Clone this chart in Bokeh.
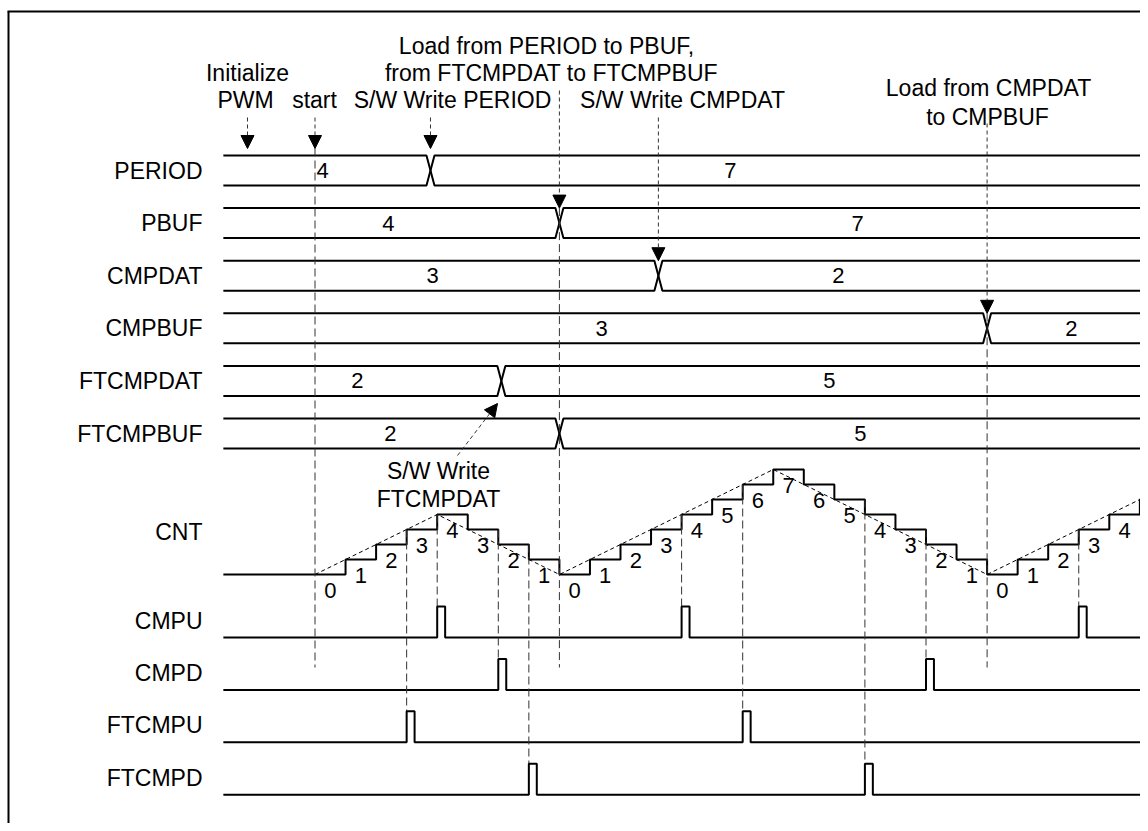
from bokeh.plotting import figure
from bokeh.models import Range1d, Arrow, NormalHead
from bokeh.core.properties import value
from bokeh.embed import file_html
from bokeh.resources import INLINE

# ---------------- data ----------------
bus_rows = ["PERIOD", "PBUF", "CMPDAT", "CMPBUF", "FTCMPDAT", "FTCMPBUF"]
bus_change_t = [3.78, 8.0, 11.24, 22.0, 6.1, 8.0]      # time (counter steps) of value change
bus_before = ["4", "4", "3", "3", "2", "2"]
bus_after = ["7", "7", "2", "2", "5", "5"]
bus_before_label_t = [0.25, 2.4, 3.85, 9.38, 1.39, 2.47]
bus_after_label_t = [13.6, 17.76, 17.13, 24.76, 16.84, 17.85]

cnt_t = list(range(0, 29))
cnt_values = [0, 1, 2, 3, 4, 3, 2, 1, 0, 1, 2, 3, 4, 5, 6, 7, 6, 5, 4, 3, 2, 1, 0, 1, 2, 3, 4, 5, 6]

pulse_rows = ["CMPU", "CMPD", "FTCMPU", "FTCMPD"]
pulse_times = [[4, 12, 25], [6, 20], [3, 14], [7, 18]]

# event times (counter steps)
ev_init_t = -2.21
ev_start_t = 0.0
ev_write_period_t = 3.78
ev_load_pbuf_t = 8.0
ev_write_cmpdat_t = 11.24
ev_load_cmpbuf_t = 22.0

# ---------------- layout ----------------
T0_PX = 314.5      # pixel x of t = 0
STEP_PX = 30.55    # px per counter step
W, H = 1140, 823


def tx(px):
    return (px - T0_PX) / STEP_PX


T_START = -3.0
T_END = tx(W + 20)
BUS_TOP0 = 155.0
ROW_PITCH = 52.6
BUS_H = 30.0
CNT_BASE = 574.0
CNT_STEP = 15.0
PULSE_BASE0 = 637.0
PULSE_PITCH = 52.4
PULSE_H = 31.0
PULSE_W = 0.26
HW = 4.0 / STEP_PX
DASH_END_Y = 667.0

FONT = value("Liberation Sans")
FS = "23px"
FS_NUM = "22px"
DASH_COL = "#333333"
DASH = "8 4"


def cy(v):
    return CNT_BASE - CNT_STEP * v


p = figure(width=W, height=H, x_range=Range1d(tx(0), tx(W)), y_range=Range1d(H, 0),
           output_backend="svg", toolbar_location=None, min_border=0,
           x_axis_type=None, y_axis_type=None)
p.xgrid.visible = False
p.ygrid.visible = False
p.outline_line_color = None
p.background_fill_color = "white"
p.border_fill_color = "white"

# frame (top & left)
p.line([tx(7), tx(W + 10)], [11, 11], line_color="black", line_width=2)
p.line([tx(8), tx(8)], [11, H + 10], line_color="black", line_width=2)


def label(txt, x, y, align="center", size=FS):
    p.text(x=[x], y=[y], text=[txt], text_font=FONT, text_font_size=size,
           text_align=align, text_baseline="middle", text_color="black")


# ---------------- bus rows ----------------
for i, name in enumerate(bus_rows):
    top = BUS_TOP0 + i * ROW_PITCH
    bot = top + BUS_H
    tc = bus_change_t[i]
    xs = [[T_START, tc - HW, tc + HW, T_END], [T_START, tc - HW, tc + HW, T_END]]
    ys = [[top, top, bot, bot], [bot, bot, top, top]]
    p.multi_line(xs, ys, line_color="black", line_width=2)
    label(name, tx(202), top + BUS_H / 2, align="right")
    label(bus_before[i], bus_before_label_t[i], top + BUS_H / 2, size=FS_NUM)
    label(bus_after[i], bus_after_label_t[i], top + BUS_H / 2, size=FS_NUM)

# ---------------- CNT ----------------
cx, cyy = [T_START], [cy(cnt_values[0])]
for t, v in zip(cnt_t, cnt_values):
    cx += [t, t + 1]
    cyy += [cy(v), cy(v)]
p.line(cx, cyy, line_color="black", line_width=2)
p.line(cnt_t, [cy(v) for v in cnt_values], line_color="black", line_width=1, line_dash="4 3")
for t, v in zip(cnt_t, cnt_values):
    if t + 0.5 < tx(W):
        label(str(v), t + 0.5, cy(v) + 16, size=FS_NUM)
label("CNT", tx(202), 531, align="right")

# ---------------- pulse rows ----------------
for j, name in enumerate(pulse_rows):
    base = PULSE_BASE0 + j * PULSE_PITCH
    top = base - PULSE_H
    xs, ys = [T_START], [base]
    for pt in pulse_times[j]:
        xs += [pt, pt, pt + PULSE_W, pt + PULSE_W]
        ys += [base, top, top, base]
        lv = max(cnt_values[pt - 1], cnt_values[pt])
        p.line([pt, pt], [cy(lv), top], line_color=DASH_COL, line_width=1, line_dash=DASH)
    xs.append(T_END)
    ys.append(base)
    p.line(xs, ys, line_color="black", line_width=2)
    label(name, tx(202), base - 17, align="right")


# ---------------- vertical event lines & arrows ----------------
def arrow(x0, y0, x1, y1):
    p.add_layout(Arrow(end=NormalHead(size=13, fill_color="black", line_color="black", line_width=1),
                       x_start=x0, y_start=y0, x_end=x1, y_end=y1,
                       line_color=DASH_COL, line_width=1, line_dash="4 3"))


arrow(ev_init_t, 117, ev_init_t, 148)
arrow(ev_start_t, 117, ev_start_t, 148)
p.line([ev_start_t, ev_start_t], [148, DASH_END_Y], line_color=DASH_COL, line_width=1, line_dash=DASH)
arrow(ev_write_period_t, 117, ev_write_period_t, 148)
arrow(ev_load_pbuf_t, 90, ev_load_pbuf_t, BUS_TOP0 + ROW_PITCH)
p.line([ev_load_pbuf_t] * 2, [BUS_TOP0 + ROW_PITCH, DASH_END_Y], line_color=DASH_COL, line_width=1, line_dash=DASH)
arrow(ev_write_cmpdat_t, 117, ev_write_cmpdat_t, BUS_TOP0 + 2 * ROW_PITCH)
arrow(ev_load_cmpbuf_t, 123, ev_load_cmpbuf_t, BUS_TOP0 + 3 * ROW_PITCH)
p.line([ev_load_cmpbuf_t] * 2, [BUS_TOP0 + 3 * ROW_PITCH, DASH_END_Y], line_color=DASH_COL, line_width=1, line_dash=DASH)
# S/W write FTCMPDAT diagonal arrow
arrow(tx(457), 455, tx(497), 403)

# ---------------- annotation texts ----------------
label("Initialize", tx(247), 72)
label("PWM", tx(245), 99)
label("start", tx(314), 99)
label("S/W Write PERIOD", tx(452), 99)
label("Load from PERIOD to PBUF,", tx(546), 45)
label("from FTCMPDAT to FTCMPBUF", tx(551), 72)
label("S/W Write CMPDAT", tx(682), 99)
label("Load from CMPDAT", tx(988), 87)
label("to CMPBUF", tx(987), 116)
label("S/W Write", tx(438), 470)
label("FTCMPDAT", tx(438), 498)

open("out.html", "w").write(file_html(p, INLINE))
